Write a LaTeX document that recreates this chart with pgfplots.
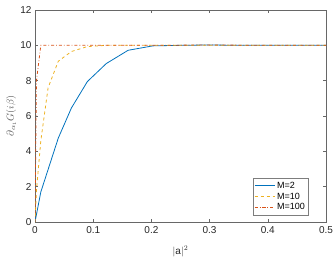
\documentclass[border=0pt]{standalone}
\usepackage{pgfplots}
\pgfplotsset{compat=1.18}
\usepackage{fontspec}
\setmainfont{Liberation Sans}
\definecolor{mblue}{rgb}{0,0.447,0.741}
\definecolor{myellow}{rgb}{0.929,0.694,0.125}
\definecolor{morange}{rgb}{0.85,0.325,0.098}
\definecolor{axgray}{rgb}{0.15,0.15,0.15}
\begin{document}
\begin{tikzpicture}
\begin{axis}[
  name=ax,
  scale only axis,
  width=291pt, height=212pt,
  xmin=0, xmax=0.5, ymin=0, ymax=12,
  xtick={0,0.1,0.2,0.3,0.4,0.5},
  ytick={0,2,4,6,8,10,12},
  tick align=inside,
  tick pos=both,
  major tick length=3pt,
  axis line style={axgray!70, line width=0.5pt},
  tick style={axgray!70, line width=0.5pt},
  tick label style={font=\fontsize{10}{11}\selectfont, text=axgray},
  /pgf/number format/assume math mode=true,
  xticklabel style={/pgf/number format/fixed, yshift=-1pt},
  scaled x ticks=false,
  xlabel={$|$a$|^2$},
  xlabel style={font=\fontsize{10}{11}\selectfont, text=axgray, at={(axis description cs:0.5,-0.14)}, anchor=center},
  ylabel={$\partial_{\alpha_1}G(i\beta)$},
  ylabel style={font=\fontsize{10}{11}\selectfont, text=axgray!80, at={(axis description cs:-0.082,0.5)}, anchor=center},
  legend style={at={(0.94,0.033)}, anchor=south east, font=\fontsize{9}{10}\selectfont, draw=axgray!60, fill=white, inner sep=1.5pt, row sep=-1pt},
  legend cell align=left,
  legend image code/.code={\draw[#1] plot coordinates {(0pt,0pt) (10pt,0pt) (20pt,0pt)};},
]
\addplot[mblue, draw=mblue, line width=0.8pt] coordinates {
(0,0) (0.01,1.7) (0.04,4.75) (0.0625,6.45) (0.09,7.95) (0.1225,8.97) (0.16,9.72) (0.2025,9.97) (0.25,10.0) (0.3,10.02) (0.35,10.0) (0.4,10.0) (0.45,10.0) (0.5,10.0)
};
\addlegendentry{M=2}
\addplot[myellow, draw=myellow, line width=0.8pt, dashed] coordinates {
(0,0) (0.0025,1.8) (0.01,4.6) (0.0225,7.6) (0.04,9.1) (0.0625,9.65) (0.09,9.93) (0.1225,10.0) (0.16,10.0) (0.25,10.0) (0.5,10.0)
};
\addlegendentry{M=10}
\addplot[morange, draw=morange, line width=0.8pt, dash dot] coordinates {
(0,0) (0.0025,8.0) (0.01,10.0) (0.04,10.0) (0.1,10.0) (0.2,10.0) (0.3,10.02) (0.4,10.0) (0.5,10.0)
};
\addlegendentry{M=100}
\end{axis}
\pgfresetboundingbox
\useasboundingbox ([shift={(-35pt,-38pt)}]ax.south west) rectangle ([shift={(9pt,10pt)}]ax.north east);
\end{tikzpicture}
\end{document}
